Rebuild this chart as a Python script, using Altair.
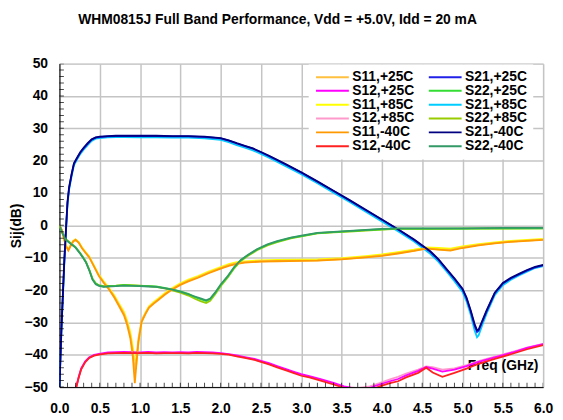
import altair as alt
import pandas as pd

TITLE = "WHM0815J Full Band Performance, Vdd = +5.0V, Idd = 20 mA"
X_TICKS = [0.0, 0.5, 1.0, 1.5, 2.0, 2.5, 3.0, 3.5, 4.0, 4.5, 5.0, 5.5, 6.0]
Y_TICKS = [-50, -40, -30, -20, -10, 0, 10, 20, 30, 40, 50]
X_MINOR = [round(i * 0.1, 1) for i in range(61)]
Y_MINOR = list(range(-50, 51, 2))

# ---- S21 ----
F21 = [0.0, 0.025, 0.06, 0.08, 0.10, 0.12, 0.15, 0.18, 0.22, 0.26, 0.30, 0.35, 0.40, 0.45, 0.50,
       0.60, 0.70, 0.80, 1.0, 1.2, 1.4, 1.6, 1.8, 1.9, 2.0, 2.1, 2.2, 2.3, 2.4, 2.5, 2.6, 2.8,
       3.0, 3.2, 3.4, 3.6, 3.8, 4.0, 4.2, 4.4, 4.6, 4.7, 4.8, 4.9, 5.0, 5.05, 5.1, 5.15, 5.18,
       5.2, 5.25, 5.3, 5.4, 5.5, 5.6, 5.7, 5.8, 5.9, 6.0]
S21_P25 = [-50, -32, -11.5, -2, 7, 11.5, 15.5, 19, 20.8, 22.5, 23.8, 25.2, 26.5, 27.1, 27.3,
           27.5, 27.6, 27.6, 27.6, 27.6, 27.5, 27.5, 27.3, 27.1, 26.9, 26.2, 25.3, 24.5, 23.7,
           22.6, 21.4, 18.9, 16.3, 13.5, 10.6, 7.7, 4.7, 1.7, -1.3, -4.5, -8.2, -10.6, -13.6,
           -16.6, -19.8, -22.6, -26.5, -31, -33, -32.6, -29.5, -26.5, -21, -18, -16.4, -15.2,
           -14, -13, -12.4]
S21_M40 = [-50, -31.5, -11, -1.5, 7.3, 11.8, 15.8, 19.2, 21, 22.7, 24, 25.4, 26.6, 27.2, 27.4,
           27.6, 27.7, 27.7, 27.7, 27.7, 27.6, 27.6, 27.4, 27.2, 27.0, 26.3, 25.4, 24.6, 23.8,
           22.7, 21.5, 19.0, 16.4, 13.6, 10.7, 7.8, 4.8, 1.8, -1.2, -4.4, -8.0, -10.4, -13.4,
           -16.4, -19.6, -22.3, -26.2, -30.5, -32.4, -32.2, -29.2, -26.2, -20.8, -17.8, -16.2,
           -15.0, -13.8, -12.8, -12.2]
S21_P85 = [-50, -32.5, -12, -2.5, 6.5, 11, 15, 18.6, 20.4, 22.1, 23.4, 24.8, 26.1, 26.8, 27.0,
           27.2, 27.3, 27.3, 27.2, 27.2, 27.1, 27.1, 26.9, 26.7, 26.4, 25.7, 24.8, 24.0, 23.2,
           22.1, 20.9, 18.4, 15.8, 13.0, 10.1, 7.2, 4.2, 1.2, -1.8, -5.0, -8.8, -11.2, -14.2,
           -17.3, -20.6, -23.5, -27.5, -32.5, -34.6, -34.0, -30.5, -27.2, -21.6, -18.5, -16.8,
           -15.5, -14.3, -13.2, -12.6]

# ---- S11 ----
F11 = [0.0, 0.03, 0.06, 0.08, 0.11, 0.14, 0.17, 0.20, 0.24, 0.28, 0.33, 0.37, 0.42, 0.49, 0.55,
       0.62, 0.68, 0.74, 0.80, 0.84, 0.88, 0.91, 0.935, 0.955, 0.98, 1.02, 1.07, 1.11, 1.17, 1.23,
       1.31, 1.39, 1.5, 1.6, 1.72, 1.85, 2.0, 2.1, 2.2, 2.3, 2.5, 2.7, 3.0, 3.2, 3.5, 3.8, 4.0,
       4.2, 4.4, 4.55, 4.7, 4.85, 5.0, 5.2, 5.4, 5.6, 5.8, 6.0]
S11_P25 = [0, -1.5, -4.5, -6.4, -7.6, -6.2, -4.9, -4.4, -5.3, -7.0, -8.6, -9.8, -12.2, -15.6,
           -17.6, -19.8, -22.0, -24.6, -27.2, -30.0, -34.0, -39.0, -45.0, -41.0, -35.0, -29.3,
           -27.0, -25.3, -24.0, -22.8, -21.2, -19.8, -18.2, -17.1, -16.0, -14.6, -13.2, -12.3,
           -11.7, -11.4, -11.1, -11.0, -10.9, -10.8, -10.4, -9.8, -9.3, -8.6, -7.8, -7.1, -7.4,
           -7.6, -6.8, -6.0, -5.5, -5.0, -4.7, -4.4]
S11_M40 = [0, -1.4, -4.3, -6.3, -7.8, -6.3, -5.0, -4.5, -5.4, -7.1, -8.7, -9.9, -12.3, -15.7,
           -17.8, -20.0, -22.3, -25.0, -27.8, -30.8, -35.0, -40.5, -48.8, -43.0, -36.0, -29.8,
           -27.3, -25.5, -24.2, -23.0, -21.4, -20.0, -18.4, -17.3, -16.2, -14.8, -13.4, -12.5,
           -11.9, -11.5, -11.2, -11.1, -11.0, -10.9, -10.5, -9.9, -9.4, -8.7, -7.9, -7.2, -7.5,
           -7.8, -7.0, -6.2, -5.6, -5.1, -4.8, -4.5]
S11_P85 = [0, -1.6, -4.6, -6.5, -7.4, -6.0, -4.8, -4.3, -5.2, -6.8, -8.4, -9.6, -12.0, -15.3,
           -17.3, -19.5, -21.6, -24.2, -26.7, -29.4, -33.0, -37.5, -41.5, -42.5, -36.5, -29.8,
           -26.8, -25.0, -23.7, -22.5, -20.9, -19.5, -17.9, -16.8, -15.7, -14.3, -12.9, -12.0,
           -11.4, -11.1, -10.8, -10.7, -10.6, -10.5, -10.1, -9.5, -9.0, -8.3, -7.5, -6.8, -7.0,
           -7.2, -6.5, -5.8, -5.3, -4.8, -4.5, -4.2]

# ---- S22 ----
F22 = [0.0, 0.04, 0.08, 0.15, 0.20, 0.25, 0.29, 0.33, 0.37, 0.41, 0.45, 0.49, 0.55, 0.6, 0.7,
       0.8, 0.9, 1.0, 1.1, 1.2, 1.3, 1.4, 1.5, 1.6, 1.68, 1.75, 1.82, 1.87, 1.93, 2.0, 2.09,
       2.17, 2.25, 2.34, 2.45, 2.58, 2.7, 2.87, 3.0, 3.2, 3.4, 3.6, 3.8, 4.0, 4.2, 4.6, 5.0,
       5.5, 6.0]
S22_P25 = [0, -2.5, -4.4, -5.8, -6.8, -8.4, -9.8, -11.4, -13.8, -16.6, -18.0, -18.6, -18.9,
           -18.8, -18.7, -18.5, -18.6, -18.7, -18.8, -18.9, -19.3, -19.8, -20.4, -21.2, -22.2,
           -22.8, -23.4, -22.8, -21.0, -18.5, -15.8, -13.0, -10.8, -9.2, -7.5, -6.0, -5.0, -3.9,
           -3.3, -2.4, -2.1, -1.8, -1.5, -1.2, -1.0, -1.0, -1.0, -0.9, -0.9]
S22_M40 = [0, -2.6, -4.5, -5.9, -6.9, -8.5, -9.9, -11.5, -13.9, -16.8, -18.2, -18.7, -19.0,
           -18.9, -18.8, -18.6, -18.7, -18.8, -18.9, -19.0, -19.4, -19.9, -20.5, -21.3, -22.0,
           -22.6, -23.2, -22.6, -20.8, -18.3, -15.6, -12.8, -10.7, -9.1, -7.4, -5.9, -4.9, -3.8,
           -3.2, -2.3, -2.0, -1.7, -1.4, -1.1, -0.9, -0.9, -0.9, -0.8, -0.8]
S22_P85 = [0, -2.4, -4.3, -5.7, -6.7, -8.3, -9.7, -11.3, -13.7, -16.4, -17.9, -18.5, -18.8,
           -18.7, -18.6, -18.4, -18.5, -18.6, -18.8, -19.0, -19.5, -20.1, -20.8, -21.7, -22.7,
           -23.4, -24.0, -23.3, -21.4, -18.8, -16.0, -13.2, -11.0, -9.4, -7.7, -6.2, -5.2, -4.0,
           -3.4, -2.5, -2.2, -1.9, -1.6, -1.3, -1.1, -1.1, -1.0, -1.0, -0.9]

# ---- S12 ----
F12 = [0.18, 0.21, 0.24, 0.27, 0.32, 0.37, 0.43, 0.49, 0.6, 0.7, 0.8, 0.9, 1.0, 1.1, 1.2, 1.3,
       1.4, 1.5, 1.6, 1.7, 1.8, 1.9, 2.0, 2.1, 2.2, 2.3, 2.42, 2.5, 2.6, 2.7, 2.83, 2.9, 3.0,
       3.1, 3.24, 3.4, 3.53, 3.7, 3.85, 3.97, 4.1, 4.2, 4.3, 4.45, 4.55, 4.63, 4.75, 4.9, 5.05,
       5.2, 5.4, 5.62, 5.8, 6.0]
S12_M40 = [-53, -50, -47, -44.5, -42.3, -41, -40.3, -40, -39.6, -39.5, -39.4, -39.5, -39.5, -39.4,
           -39.6, -39.5, -39.5, -39.5, -39.6, -39.4, -39.5, -39.6, -39.7, -40.0, -40.5, -41.0,
           -41.6, -42.2, -43.0, -43.9, -45.0, -45.6, -46.5, -47.0, -48.0, -49.2, -50.2, -51.5,
           -51.0, -49.8, -48.8, -48.2, -47.0, -45.6, -44.0, -45.5, -46.8, -45.6, -44.3, -42.8,
           -41.3, -39.7, -38.3, -37.0]
S12_P25 = [-52.5, -49.7, -46.7, -44.2, -42.0, -40.8, -40.0, -39.7, -39.3, -39.2, -39.1, -39.2,
           -39.3, -39.1, -39.3, -39.2, -39.3, -39.2, -39.3, -39.1, -39.2, -39.3, -39.5, -39.8,
           -40.2, -40.7, -41.3, -41.9, -42.6, -43.5, -44.6, -45.2, -46.0, -46.6, -47.5, -48.7,
           -49.8, -50.6, -50.2, -49.2, -48.2, -47.5, -46.4, -45.0, -43.8, -44.3, -45.2, -44.6,
           -43.5, -42.2, -40.8, -39.3, -37.9, -36.7]
S12_P85 = [-52.8, -49.9, -46.9, -44.4, -42.2, -40.9, -40.2, -39.9, -39.5, -39.4, -39.3, -39.4,
           -39.4, -39.3, -39.5, -39.4, -39.4, -39.4, -39.5, -39.3, -39.4, -39.5, -39.6, -39.9,
           -40.4, -40.9, -41.5, -42.1, -42.8, -43.7, -44.8, -45.4, -46.2, -46.8, -47.7, -48.9,
           -49.9, -50.3, -49.8, -48.8, -47.6, -46.8, -45.8, -44.6, -43.6, -43.8, -44.6, -44.2,
           -43.2, -42.0, -40.6, -39.1, -37.8, -36.6]

# legend order (filled column by column, two columns) and colours
LEGEND_ORDER = ["S11,+25C", "S12,+25C", "S11,+85C", "S12,+85C", "S11,-40C", "S12,-40C",
                "S21,+25C", "S22,+25C", "S21,+85C", "S22,+85C", "S21,-40C", "S22,-40C"]
COLORS = ["#FFC040", "#FF00FF", "#FFFF00", "#FF99CC", "#FF9900", "#FF2020",
          "#2020E8", "#33DD33", "#00CCFF", "#99CC00", "#000080", "#339966"]

SERIES = [
    ("S11,+85C", F11, S11_P85, "+85"), ("S21,+85C", F21, S21_P85, "+85"),
    ("S12,+85C", F12, S12_P85, "+85"), ("S22,+85C", F22, S22_P85, "+85"),
    ("S11,+25C", F11, S11_P25, "+25"), ("S21,+25C", F21, S21_P25, "+25"),
    ("S12,+25C", F12, S12_P25, "+25"), ("S22,+25C", F22, S22_P25, "+25"),
    ("S11,-40C", F11, S11_M40, "-40"), ("S21,-40C", F21, S21_M40, "-40"),
    ("S12,-40C", F12, S12_M40, "-40"), ("S22,-40C", F22, S22_M40, "-40"),
]

rows = []
for name, fs, vs, temp in SERIES:
    for i, (f, v) in enumerate(zip(fs, vs)):
        rows.append({"series": name, "freq": f, "db": v, "temp": temp, "idx": i})
df = pd.DataFrame(rows)

xminor_df = pd.DataFrame({"freq": X_MINOR, "db": [-50] * len(X_MINOR)})
yminor_df = pd.DataFrame({"freq": [0.0] * len(Y_MINOR), "db": Y_MINOR})

FONT = "Liberation Sans"

color = alt.Color(
    "series:N",
    scale=alt.Scale(domain=LEGEND_ORDER, range=COLORS),
    legend=alt.Legend(
        orient="none", legendX=252, legendY=1, columns=2, title=None,
        symbolType="stroke", symbolSize=1100, symbolStrokeWidth=2,
        labelFontSize=14, labelFontWeight="bold", labelFont=FONT, labelColor="black",
        labelOffset=2, clipHeight=13, rowPadding=-2.7, columnPadding=13,
        fillColor="white", padding=6,
    ),
)

x_main = alt.X(
    "freq:Q",
    scale=alt.Scale(domain=[0, 6], nice=False),
    axis=alt.Axis(
        values=X_TICKS, format=".1f", labelFontSize=14, labelFontWeight="bold",
        labelFont=FONT, labelColor="black", labelPadding=15, labelFlush=False, ticks=False,
        domainColor="black", domainWidth=1, grid=True, gridColor="#C4C4C4", gridWidth=1.5,
        title="Freq (GHz)", titleFontSize=14, titleFontWeight="bold", titleFont=FONT,
        titleColor="black", titleX=448, titleY=-22, titleAlign="center",
        titleBaseline="middle", orient="bottom",
    ),
)
y_main = alt.Y(
    "db:Q",
    scale=alt.Scale(domain=[-50, 50], nice=False),
    axis=alt.Axis(
        values=Y_TICKS, labelFontSize=14, labelFontWeight="bold", labelFont=FONT,
        labelColor="black", labelPadding=12, labelFlush=False, ticks=False,
        domainColor="black", domainWidth=1, grid=True, gridColor="#C4C4C4", gridWidth=1.5,
        title="Sij(dB)", titleFontSize=14, titleFontWeight="bold", titleFont=FONT,
        titleColor="black", titleX=-43, titleY=163.5, titleAngle=270,
        titleAlign="center", titleBaseline="middle", orient="left",
    ),
)

layers = []
for temp in ["+85", "+25", "-40"]:
    layers.append(
        alt.Chart(df[df["temp"] == temp])
        .mark_line(strokeWidth=1.8, clip=True)
        .encode(x=x_main, y=y_main, color=color, order="idx:Q")
    )

# minor tick marks (inside half only, the outer half is clipped)
xminor = (
    alt.Chart(xminor_df)
    .mark_tick(orient="vertical", size=9, thickness=1, color="black", clip=True)
    .encode(x=x_main, y=y_main)
)
yminor = (
    alt.Chart(yminor_df)
    .mark_tick(orient="horizontal", size=9, thickness=1, color="black", clip=True)
    .encode(x=x_main, y=y_main)
)

chart = (
    alt.layer(*layers, xminor, yminor)
    .properties(
        width=489, height=327,
        autosize=alt.AutoSizeParams(type="none"),
        padding={"left": 52, "top": 54, "right": 12, "bottom": 28},
        title=alt.TitleParams(
            text=TITLE, fontSize=14, fontWeight="bold", font=FONT, color="black",
            anchor="middle", dx=-24, offset=30,
        ),
    )
    .configure_view(stroke="#8C8C8C", strokeWidth=1)
    .configure(background="white")
)

chart.save("out.html", embed_options={"renderer": "svg", "actions": False})
